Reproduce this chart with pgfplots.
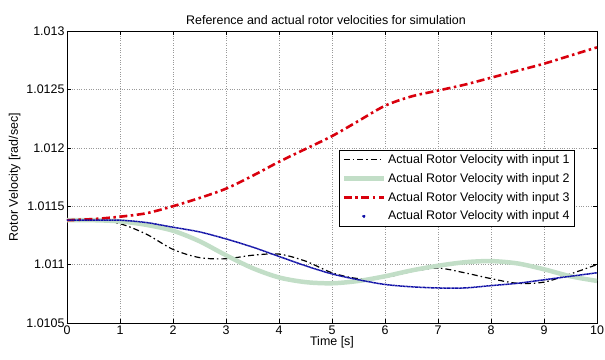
\documentclass[border=0pt]{standalone}
\usepackage{fontspec}
\setmainfont{Liberation Sans}
\usepackage{pgfplots}
\pgfplotsset{compat=1.18}
\definecolor{mred}{rgb}{0.85,0.0,0.05}
\definecolor{mgreen}{rgb}{0.76,0.87,0.78}
\definecolor{mblue}{rgb}{0.05,0.05,0.65}
\begin{document}
\begin{tikzpicture}
\begin{axis}[name=ax,
  scale only axis, width=530bp, height=292bp,
  xmin=0, xmax=10, ymin=1.0105, ymax=1.013,
  xtick={0,1,...,10},
  ytick={1.0105,1.011,1.0115,1.012,1.0125,1.013},
  yticklabels={1.0105,1.011,1.0115,1.012,1.0125,1.013},
  grid=major, grid style={dotted, gray!80},
  tick align=inside, major tick length=4bp,
  tick style={black, thin},
  axis line style={black, thin},
  /pgf/number format/assume math mode=true,
  ticklabel style={font=\fontsize{12.5}{14}\selectfont},
  xticklabel style={yshift=1bp},
  yticklabel style={xshift=1bp},
  title={Reference and actual rotor velocities for simulation},
  title style={font=\fontsize{12.5}{14}\selectfont, yshift=-3bp, xshift=-6bp},
  xlabel={Time [s]}, ylabel={Rotor Velocity [rad/sec]},
  label style={font=\fontsize{12.5}{14}\selectfont},
  xlabel style={yshift=5bp},
  ylabel style={yshift=-1bp},
  legend style={at={(0.957,0.593)}, anchor=north east, draw=black, thin,
    font=\fontsize{12.5}{14}\selectfont, row sep=4.3bp, inner sep=2.5bp},
  legend cell align=left,
  every axis plot/.append style={smooth},
  legend image code/.code={\draw[#1] (0bp,0bp) -- (40bp,0bp);},
]
\addplot[black, line width=1.2pt, dash pattern=on 6bp off 3bp on 1.5bp off 3bp] coordinates {
(0,1.01138)(0.5,1.01138)(1,1.01135)(1.5,1.01126)(2,1.01113)(2.5,1.01106)(3,1.01105)(3.5,1.01108)(4,1.01109)(4.5,1.01103)(5,1.01093)(5.5,1.01088)(6,1.01089)(6.5,1.01094)(7,1.01097)(7.5,1.01093)(8,1.01088)(8.5,1.01084)(9,1.01085)(9.5,1.01092)(10,1.011)};
\addlegendentry{Actual Rotor Velocity with input 1}
\addplot[mgreen, line width=4.5pt] coordinates {
(0,1.01138)(0.5,1.01138)(1,1.01137)(1.5,1.01134)(2,1.01129)(2.5,1.0112)(3,1.01108)(3.5,1.01097)(4,1.01089)(4.5,1.01085)(5,1.01084)(5.5,1.01086)(6,1.0109)(6.5,1.01095)(7,1.01099)(7.5,1.01102)(8,1.01103)(8.5,1.01101)(9,1.01096)(9.5,1.0109)(10,1.01086)};
\addlegendentry{Actual Rotor Velocity with input 2}
\addplot[mred, line width=2.6pt, dash pattern=on 8bp off 3.5bp on 2.5bp off 3.5bp] coordinates {
(0,1.01138)(0.5,1.01139)(1,1.01141)(1.5,1.01144)(2,1.0115)(2.5,1.01157)(3,1.01165)(3.5,1.01176)(4,1.01188)(4.5,1.01199)(5,1.0121)(5.5,1.01223)(6,1.01236)(6.5,1.01244)(7,1.01249)(7.5,1.01254)(8,1.0126)(8.5,1.01266)(9,1.01272)(9.5,1.01279)(10,1.01286)};
\addlegendentry{Actual Rotor Velocity with input 3}
\addplot[mblue, line width=1.5pt, dash pattern=on 1.2bp off 0.4bp,
  legend image code/.code={\fill[mblue] (20bp,0bp) circle (0.9bp);}] coordinates {
(0,1.01138)(0.5,1.01138)(1,1.01138)(1.5,1.01136)(2,1.01132)(2.5,1.01128)(3,1.01122)(3.5,1.01115)(4,1.01107)(4.5,1.01099)(5,1.01092)(5.5,1.01087)(6,1.01083)(6.5,1.01081)(7,1.0108)(7.5,1.0108)(8,1.01082)(8.5,1.01084)(9,1.01087)(9.5,1.0109)(10,1.01093)};
\addlegendentry{Actual Rotor Velocity with input 4}
\end{axis}
\pgfresetboundingbox
\path ([xshift=-67bp,yshift=-37bp]ax.south west) rectangle ([xshift=8bp,yshift=31bp]ax.north east);
\end{tikzpicture}
\end{document}
